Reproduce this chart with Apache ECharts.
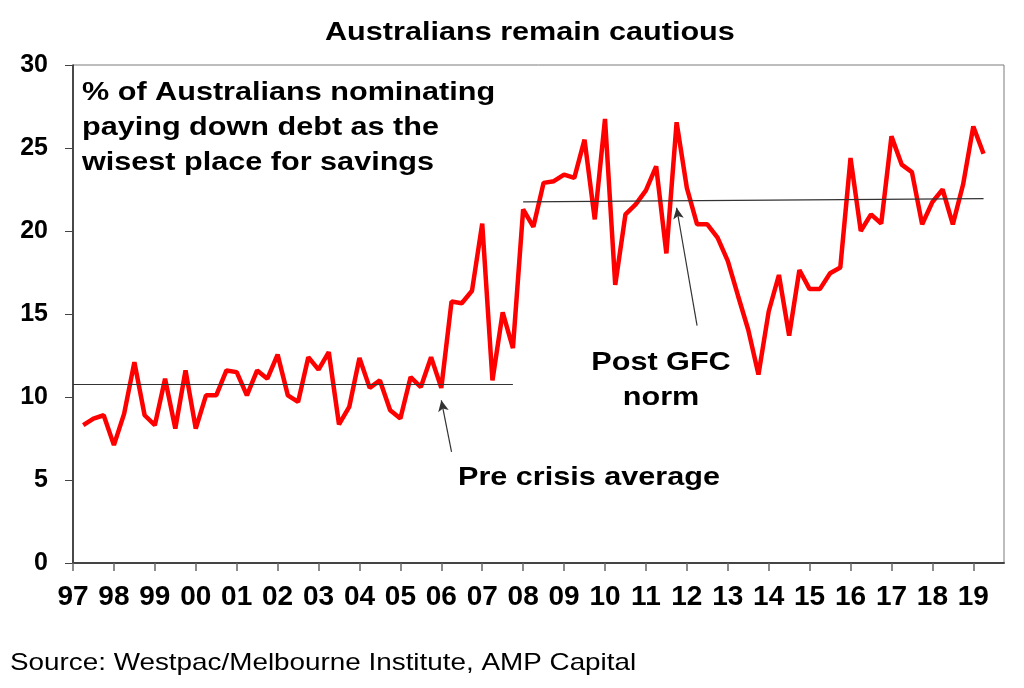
<!DOCTYPE html>
<html>
<head>
<meta charset="utf-8">
<script src="https://cdn.jsdelivr.net/npm/echarts@6/dist/echarts.min.js"></script>
<style>
  html, body { margin: 0; padding: 0; background: #fff; }
  #main { width: 1024px; height: 688px; }
</style>
</head>
<body>
<div id="main"></div>
<script>
var myChart = echarts.init(document.getElementById('main'));

// tick labels (one per year) and quarters
var years = ['97','98','99','00','01','02','03','04','05','06','07','08',
             '09','10','11','12','13','14','15','16','17','18','19'];
var quarters = ['Mar', 'Jun', 'Sep', 'Dec'];

// % nominating paying down debt as wisest place for savings, Jun-97 .. Mar-19
var payDownDebt = [
  8.3, 8.7, 8.9, 7.1, 9.0, 12.1, 8.9, 8.3, 11.1, 8.1, 11.6, 8.1,
  10.1, 10.1, 11.6, 11.5, 10.1, 11.6, 11.1, 12.55, 10.1, 9.7, 12.4, 11.65,
  12.7, 8.35, 9.4, 12.35, 10.55, 11.0, 9.2, 8.7, 11.2, 10.6, 12.4, 10.55,
  15.75, 15.65, 16.4, 20.45, 11.0, 15.1, 12.95, 21.3, 20.25, 22.9, 23.0, 23.4,
  23.2, 25.5, 20.7, 26.75, 16.75, 21.0, 21.6, 22.45, 23.9, 18.65, 26.55, 22.6,
  20.4, 20.4, 19.6, 18.2, 16.1, 14.05, 11.35, 15.15, 17.35, 13.7, 17.65, 16.5,
  16.5, 17.45, 17.8, 24.4, 20.0, 21.0, 20.45, 25.7, 24.0, 23.55, 20.4, 21.75,
  22.5, 20.4, 22.8, 26.3, 24.65
];

// reference levels
var preCrisisAvg = 10.75;
var postGfcNorm = [21.75, 21.95];

var categories = [];
years.forEach(function (y) {
  quarters.forEach(function (q) { categories.push(q + '-' + y); });
});

var seriesData = ['-'].concat(payDownDebt);

var boldFont = '"Liberation Sans", Arial, sans-serif';

var option = {
  backgroundColor: '#ffffff',
  animation: false,
  grid: {
    left: 73,
    right: 20,
    top: 65,
    bottom: 125,
    show: true,
    borderColor: '#7a7a7a',
    borderWidth: 1
  },
  xAxis: {
    type: 'category',
    data: categories,
    boundaryGap: false,
    axisLine: { lineStyle: { color: '#444', width: 2 } },
    axisTick: {
      length: 8,
      interval: function (idx) { return idx % 4 === 0; },
      lineStyle: { color: '#666', width: 1.5 }
    },
    axisLabel: {
      interval: function (idx) { return idx % 4 === 0; },
      formatter: function (v) { return v.split('-')[1]; },
      margin: 20,
      color: '#000',
      fontFamily: boldFont,
      fontWeight: 'bold',
      fontSize: 28
    },
    splitLine: { show: false }
  },
  yAxis: {
    type: 'value',
    min: 0,
    max: 30,
    interval: 5,
    axisLine: { show: true, lineStyle: { color: '#222', width: 1.5 } },
    axisTick: { show: true, length: 8, lineStyle: { color: '#444' } },
    axisLabel: {
      margin: 25,
      color: '#000',
      fontFamily: boldFont,
      fontWeight: 'bold',
      fontSize: 25
    },
    splitLine: { show: false }
  },
  series: [
    {
      name: 'Paying down debt',
      type: 'line',
      data: seriesData,
      symbol: 'none',
      lineStyle: { color: '#ff0000', width: 4.5 },
      z: 3,
      markLine: {
        silent: true,
        animation: false,
        label: { show: false },
        lineStyle: { type: 'solid', color: '#333', width: 1.2 },
        symbol: ['none', 'none'],
        data: [
          [{ coord: [0, preCrisisAvg] }, { coord: [43, preCrisisAvg] }],
          [{ coord: [44, postGfcNorm[0]] }, { coord: [89, postGfcNorm[1]] }],
          [{ coord: [37, 6.7], symbol: 'none' },
           { coord: [36, 9.8], symbol: 'arrow', symbolSize: [8, 11] }],
          [{ coord: [61, 14.3], symbol: 'none' },
           { coord: [59, 21.4], symbol: 'arrow', symbolSize: [8, 11] }]
        ]
      }
    }
  ],
  graphic: [
    {
      type: 'text', x: 325, y: 33, scaleX: 1.2,
      style: {
        text: 'Australians remain cautious',
        font: 'bold 25.5px ' + boldFont,
        fill: '#000', textAlign: 'left', textVerticalAlign: 'middle'
      }
    },
    {
      type: 'text', x: 82, y: 75, scaleX: 1.2,
      style: {
        text: '% of Australians nominating\npaying down debt as the\nwisest place for savings',
        font: 'bold 25.5px ' + boldFont,
        lineHeight: 35,
        fill: '#000', textAlign: 'left', textVerticalAlign: 'top'
      }
    },
    {
      type: 'text', x: 661, y: 380, scaleX: 1.2,
      style: {
        text: 'Post GFC\nnorm',
        font: 'bold 25.5px ' + boldFont,
        lineHeight: 35,
        fill: '#000', textAlign: 'center', textVerticalAlign: 'middle'
      }
    },
    {
      type: 'text', x: 589, y: 478, scaleX: 1.2,
      style: {
        text: 'Pre crisis average',
        font: 'bold 25.5px ' + boldFont,
        fill: '#000', textAlign: 'center', textVerticalAlign: 'middle'
      }
    },
    {
      type: 'text', x: 10, y: 663, scaleX: 1.16,
      style: {
        text: 'Source: Westpac/Melbourne Institute, AMP Capital',
        font: '24px ' + boldFont,
        fill: '#000', textAlign: 'left', textVerticalAlign: 'middle'
      }
    }
  ]
};

myChart.setOption(option);
</script>
</body>
</html>
